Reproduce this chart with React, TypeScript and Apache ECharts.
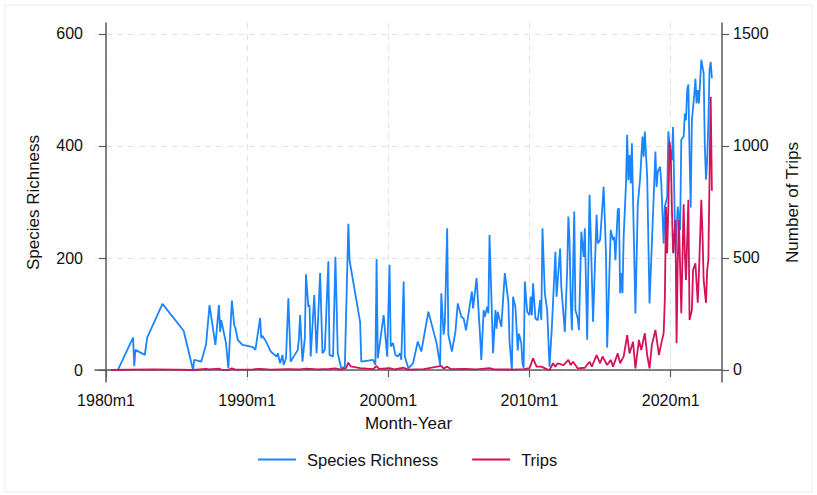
import React, { useEffect, useRef } from "react";
import * as echarts from "echarts";

// Month index: 0 = 1980m1
const xTickValues = [0, 120, 240, 360, 480];
const xTickLabels = ["1980m1", "1990m1", "2000m1", "2010m1", "2020m1"];
const leftTickValues = [0, 200, 400, 600];
const rightTickValues = [0, 500, 1000, 1500];

const speciesRichness: [number, number][] = [
  [4, 0], [10, 0], [23, 58], [24, 7], [25, 36], [33, 27], [35, 58], [48, 118], [66, 70], [74, 0],
  [75, 18], [81, 15], [85, 45], [88, 116], [93, 45], [96, 116], [97, 68], [98, 89], [102, 48], [104, 3],
  [107, 124], [109, 80], [110, 75], [112, 54], [116, 45], [125, 41], [127, 36], [131, 93], [132, 57], [133, 61],
  [136, 51], [140, 33], [145, 24], [146, 30], [148, 12], [150, 27], [151, 9], [153, 21], [155, 128], [157, 15],
  [163, 36], [164, 57], [165, 98], [167, 15], [169, 57], [170, 171], [172, 113], [173, 116], [174, 24], [177, 134],
  [179, 30], [182, 173], [184, 30], [186, 36], [189, 194], [190, 27], [193, 24], [195, 202], [197, 30], [200, 3],
  [203, 6], [206, 261], [207, 196], [216, 86], [217, 15], [227, 18], [229, 9], [230, 198], [231, 21], [236, 98],
  [239, 24], [241, 188], [242, 42], [244, 48], [246, 27], [248, 24], [250, 30], [251, 18], [253, 158], [254, 24],
  [257, 3], [261, 12], [265, 51], [268, 33], [274, 104], [281, 48], [284, 9], [285, 137], [287, 63], [288, 83],
  [290, 253], [291, 63], [294, 33], [297, 68], [299, 119], [302, 95], [304, 92], [306, 71], [311, 140], [312, 110],
  [315, 164], [318, 60], [319, 18], [321, 107], [322, 95], [324, 113], [325, 101], [326, 241], [329, 30], [331, 107],
  [332, 74], [333, 104], [336, 77], [339, 173], [342, 122], [343, 51], [345, 0], [346, 131], [348, 112], [350, 35],
  [351, 65], [353, 48], [354, 12], [355, 4], [356, 158], [358, 104], [360, 98], [361, 131], [362, 98], [363, 155],
  [365, 92], [367, 89], [369, 125], [370, 89], [371, 253], [373, 137], [375, 107], [377, 6], [379, 77], [382, 211],
  [383, 131], [386, 217], [387, 149], [390, 68], [392, 179], [393, 274], [394, 232], [395, 125], [396, 71], [398, 283],
  [399, 107], [401, 92], [402, 71], [404, 247], [406, 202], [407, 253], [409, 54], [411, 313], [412, 244], [414, 86],
  [417, 277], [418, 226], [420, 232], [423, 327], [425, 208], [426, 40], [429, 250], [431, 232], [432, 238], [433, 196],
  [435, 286], [436, 289], [437, 137], [438, 173], [439, 137], [440, 238], [442, 333], [443, 420], [444, 339], [445, 384],
  [446, 333], [447, 405], [450, 101], [452, 295], [454, 342], [456, 417], [457, 381], [458, 426], [460, 345], [462, 119],
  [464, 226], [467, 390], [468, 327], [469, 354], [471, 363], [472, 333], [474, 226], [475, 292], [477, 309], [478, 426],
  [479, 402], [481, 375], [482, 434], [483, 321], [484, 208], [486, 292], [488, 250], [489, 411], [491, 417], [492, 458],
  [493, 446], [494, 500], [495, 510], [496, 387], [497, 290], [498, 446], [500, 491], [501, 520], [502, 476], [503, 500],
  [504, 476], [506, 554], [508, 530], [509, 399], [510, 340], [511, 375], [512, 440], [513, 536], [514, 550], [515, 521],
];

const trips: [number, number][] = [
  [4, 0], [20, 2], [40, 3], [60, 2], [74, 0], [85, 5], [88, 3], [96, 6], [98, 2], [104, 0],
  [107, 7], [110, 2], [125, 3], [131, 5], [140, 2], [155, 4], [165, 3], [170, 6], [180, 3], [190, 5],
  [195, 7], [200, 2], [204, 8], [206, 33], [208, 16], [216, 8], [227, 4], [230, 18], [232, 5], [241, 8],
  [245, 3], [253, 10], [257, 2], [270, 4], [285, 18], [287, 6], [290, 15], [293, 4], [305, 5], [315, 3],
  [326, 8], [330, 3], [345, 2], [355, 4], [360, 8], [363, 52], [366, 15], [370, 15], [375, 3], [377, 0],
  [380, 30], [382, 15], [384, 30], [389, 22], [393, 45], [395, 22], [397, 37], [401, 7], [407, 10], [411, 37],
  [413, 15], [417, 67], [420, 30], [422, 60], [426, 22], [429, 45], [431, 15], [435, 74], [437, 30], [440, 60],
  [443, 156], [445, 74], [448, 126], [450, 7], [453, 134], [455, 89], [458, 164], [460, 67], [462, 7], [464, 112],
  [467, 179], [470, 67], [472, 119], [474, 164], [475, 312], [476, 729], [477, 521], [478, 729], [479, 1019], [480, 975],
  [481, 729], [482, 521], [484, 670], [485, 119], [486, 491], [487, 670], [489, 253], [491, 740], [492, 521], [493, 402],
  [495, 760], [496, 223], [498, 268], [499, 446], [501, 476], [503, 300], [504, 432], [506, 760], [507, 610], [508, 402],
  [510, 300], [511, 446], [512, 491], [514, 1220], [515, 800],
];

const BLUE = "#1A85FF";
const RED = "#D41159";
const FONT = "'Liberation Sans', Arial, Helvetica, sans-serif";
const TEXT = "#111111";
const AXIS = "#5a5a5a";
const GRIDC = "#e3e3e3";

export default function App() {
  const ref = useRef<HTMLDivElement>(null);
  useEffect(() => {
    if (!ref.current) return;
    const chart = echarts.init(ref.current, undefined, { renderer: "svg" });
    const tickStyle = { show: true, length: 7, lineStyle: { color: AXIS, width: 1.2 } };
    chart.setOption({
      animation: false,
      backgroundColor: "#ffffff",
      textStyle: { fontFamily: FONT },
      graphic: [
        {
          type: "rect",
          shape: { x: 5, y: 5, width: 807, height: 487 },
          style: { fill: "none", stroke: "#ececec", lineWidth: 1 },
          silent: true,
          z: -10,
        },
      ],
      grid: { left: 95, right: 95, top: 23, bottom: 113 },
      legend: {
        left: 258,
        top: 451,
        padding: 0,
        itemWidth: 38,
        itemHeight: 2,
        itemGap: 34,
        icon: "rect",
        textStyle: { fontFamily: FONT, fontSize: 16.5, color: TEXT, padding: [0, 0, 0, 6] },
        data: [
          { name: "Species Richness", itemStyle: { color: BLUE } },
          { name: "Trips", itemStyle: { color: RED } },
        ],
      },
      xAxis: {
        type: "value",
        min: -9.35,
        max: 523.6,
        name: "Month-Year",
        nameLocation: "middle",
        nameGap: 33,
        nameTextStyle: { fontFamily: FONT, fontSize: 17, color: TEXT },
        axisLine: { show: true, lineStyle: { color: AXIS, width: 1.5 } },
        axisTick: { ...tickStyle, customValues: xTickValues },
        axisLabel: {
          customValues: xTickValues,
          margin: 10,
          fontFamily: FONT,
          fontSize: 16,
          color: TEXT,
          formatter: (v: number) => {
            const i = xTickValues.indexOf(Math.round(v));
            return i >= 0 ? xTickLabels[i] : "";
          },
        },
        splitLine: { show: true, lineStyle: { color: GRIDC, type: [6, 5], width: 1 } },
      },
      yAxis: [
        {
          type: "value",
          position: "left",
          min: -21.4,
          max: 619.6,
          name: "Species Richness",
          nameLocation: "middle",
          nameRotate: 90,
          nameGap: 53,
          nameTextStyle: { fontFamily: FONT, fontSize: 17, color: TEXT },
          axisLine: { show: true, lineStyle: { color: AXIS, width: 1.5 } },
          axisTick: { ...tickStyle, customValues: leftTickValues },
          axisLabel: {
            customValues: leftTickValues,
            margin: 12,
            fontFamily: FONT,
            fontSize: 16,
            color: TEXT,
            formatter: (v: number) => String(Math.round(v)),
          },
          splitLine: { show: true, lineStyle: { color: GRIDC, type: [6, 5], width: 1 } },
        },
        {
          type: "value",
          position: "right",
          min: -53.6,
          max: 1549.1,
          name: "Number of Trips",
          nameLocation: "middle",
          nameRotate: 90,
          nameGap: 62,
          nameTextStyle: { fontFamily: FONT, fontSize: 17, color: TEXT },
          axisLine: { show: true, lineStyle: { color: AXIS, width: 1.5 } },
          axisTick: { ...tickStyle, customValues: rightTickValues },
          axisLabel: {
            customValues: rightTickValues,
            margin: 11,
            fontFamily: FONT,
            fontSize: 16,
            color: TEXT,
            formatter: (v: number) => String(Math.round(v)),
          },
          splitLine: { show: false },
        },
      ],
      series: [
        {
          name: "Species Richness",
          type: "line",
          yAxisIndex: 0,
          data: speciesRichness,
          symbol: "none",
          lineStyle: { color: BLUE, width: 1.8 },
          itemStyle: { color: BLUE },
          z: 2,
        },
        {
          name: "Trips",
          type: "line",
          yAxisIndex: 1,
          data: trips,
          symbol: "none",
          lineStyle: { color: RED, width: 1.8 },
          itemStyle: { color: RED },
          z: 3,
        },
      ],
    });
    return () => chart.dispose();
  }, []);
  return (
    <div
      ref={ref}
      style={{ position: "fixed", left: 0, top: 0, width: 817, height: 495, background: "#fff" }}
    />
  );
}
